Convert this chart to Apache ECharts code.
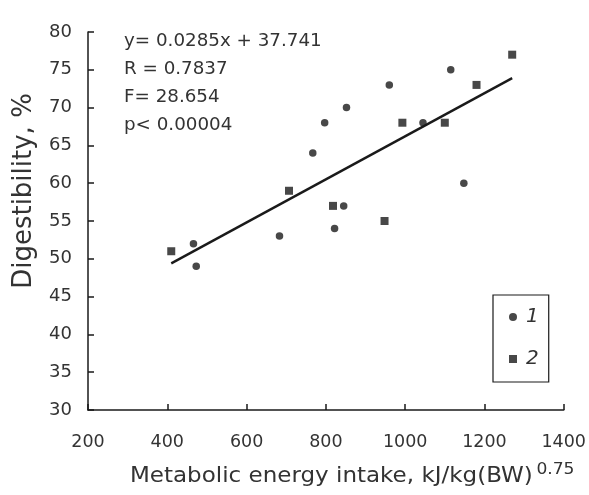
<!DOCTYPE html>
<html><head><meta charset="utf-8">
<script src="https://cdn.jsdelivr.net/npm/echarts@6/dist/echarts.min.js"></script>
<style>html,body{margin:0;padding:0;background:#fff}#c{width:589px;height:495px}</style>
</head><body><div id="c"></div>
<script>
// Group 1 (circles): [energy intake, digestibility]
const group1 = [[1115,75],[960,73],[852,70],[797,68],[1045,68],[767,64],[1148,60],[845,57],[822,54],[683,53],[466,52],[473,49]];
// Group 2 (squares)
const group2 = [[1270,77],[1180,73],[993,68],[1100,68],[707,59],[818,57],[948,55],[410,51]];
// Regression line endpoints
const fitLine = [[410,49.4],[1270,73.9]];
const statLines = ['y= 0.0285x + 37.741','R = 0.7837','F= 28.654','p< 0.00004'];
const xTicks = {min:200,max:1400,interval:200};
const yTicks = {min:30,max:80,interval:5};
const xName = 'Metabolic energy intake, kJ/kg(BW)';
const xNameSup = '0.75';
const yName = 'Digestibility, %';

const chart = echarts.init(document.getElementById('c'));
const ink = '#1a1a1a', txt = '#333', ff = 'DejaVu Sans';
chart.setOption({
  animation:false,
  grid:{left:88,right:25,top:32,bottom:85},
  xAxis:{type:'value',min:xTicks.min,max:xTicks.max,interval:xTicks.interval,
    axisLine:{show:true,lineStyle:{color:ink,width:1.5}},
    axisTick:{show:true,inside:true,length:6,lineStyle:{color:ink,width:1.5}},
    splitLine:{show:false},
    axisLabel:{color:txt,fontSize:17.5,fontFamily:ff,margin:23,formatter:v=>String(v)}
  },
  yAxis:{type:'value',min:yTicks.min,max:yTicks.max,interval:yTicks.interval,
    axisLine:{show:true,lineStyle:{color:ink,width:1.5}},
    axisTick:{show:true,inside:true,length:6,lineStyle:{color:ink,width:1.5}},
    splitLine:{show:false},
    axisLabel:{color:txt,fontSize:18,fontFamily:ff,margin:16}
  },
  legend:{orient:'vertical',left:493,top:295,
    borderColor:ink,borderWidth:1.2,borderRadius:0,
    padding:[12,10,13,16],itemGap:22,itemWidth:8,itemHeight:8,
    textStyle:{fontSize:20,fontStyle:'italic',color:txt,fontFamily:ff,padding:[0,0,0,4]},
    data:[{name:'1',icon:'circle'},{name:'2',icon:'rect'}]
  },
  graphic:[
    ...statLines.map((s,i)=>({type:'text',x:124,y:41+i*28,
      style:{text:s,fontSize:18.3,fill:txt,fontFamily:ff,textVerticalAlign:'middle'}})),
    {type:'text',x:24,y:191,rotation:Math.PI/2,
      style:{text:yName,fontSize:26,fill:txt,fontFamily:ff,textAlign:'center',textVerticalAlign:'middle'}},
    {type:'text',x:130,y:476,scaleX:1.07,
      style:{text:'{a|'+xName+'} {b|'+xNameSup+'}',textVerticalAlign:'middle',
        rich:{a:{fontSize:21.5,fill:txt,fontFamily:ff,lineHeight:28},
              b:{fontSize:16,fill:txt,fontFamily:ff,verticalAlign:'top',lineHeight:16}}}}
  ],
  series:[
    {name:'fit',type:'line',data:fitLine,symbol:'none',lineStyle:{color:ink,width:2.4},silent:true,z:1},
    {name:'1',type:'scatter',data:group1,symbol:'circle',symbolSize:7.5,itemStyle:{color:ink},z:3},
    {name:'2',type:'scatter',data:group2,symbol:'rect',symbolSize:8,itemStyle:{color:ink},z:3}
  ]
});
</script></body></html>
